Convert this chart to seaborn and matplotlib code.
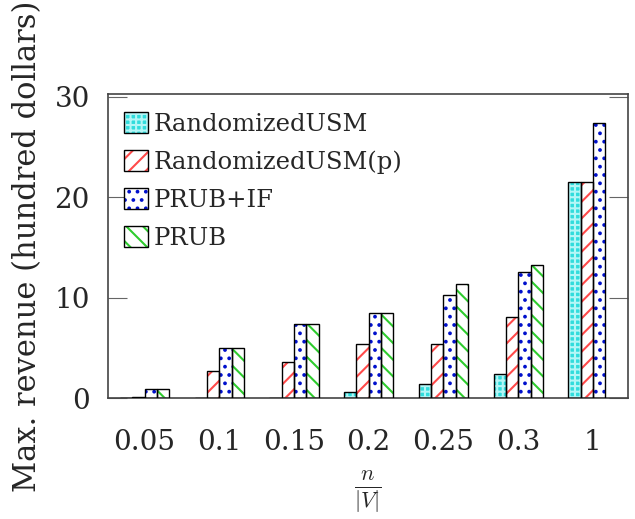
import pandas as pd
import numpy as np
import matplotlib
matplotlib.use("Agg")
import matplotlib.pyplot as plt
import seaborn as sns
from matplotlib.patches import Patch, Rectangle

#%% data
ratios = ["0.05", "0.1", "0.15", "0.2", "0.25", "0.3", "1"]
methods = ["RandomizedUSM", "RandomizedUSM(p)", "PRUB+IF", "PRUB"]
usm = [0.0, 0.0, 0.0, 0.6, 1.4, 2.4, 21.5]
usm_p = [0.15, 2.7, 3.6, 5.4, 5.4, 8.1, 21.5]
prub_if = [0.9, 5.0, 7.4, 8.5, 10.3, 12.6, 27.4]
prub = [0.9, 5.0, 7.4, 8.5, 11.4, 13.3, None]  # no PRUB bar at 1

rows = []
for m, vals in zip(methods, [usm, usm_p, prub_if, prub]):
    for r, v in zip(ratios, vals):
        if v is not None:
            rows.append({"ratio": r, "method": m, "revenue": v})
df = pd.DataFrame(rows)

#%% styles
face = ["#30dcdc", "white", "white", "white"]
hatch_col = ["#b4f6f6", "#ff4a4a", "#0010cc", "#2ecc2e"]
hatches = ["+++", "//", "..", "\\\\"]

sns.set_style("ticks")
plt.rcParams["font.family"] = ["DejaVu Serif"]
plt.rcParams["mathtext.fontset"] = "cm"
plt.rcParams["hatch.linewidth"] = 1.5

fig = plt.figure(figsize=(6.35, 5.19), dpi=100)
ax = fig.add_axes([0.170, 0.233, 0.819, 0.586])

sns.barplot(data=df, x="ratio", y="revenue", hue="method", order=ratios,
            hue_order=methods, width=0.66, errorbar=None, legend=False, ax=ax)

for i, cont in enumerate(ax.containers):
    for bar in cont:
        bar.set_facecolor(face[i])
        bar.set_edgecolor(hatch_col[i])
        bar.set_hatch(hatches[i])
        bar.set_linewidth(0)
        ax.add_patch(Rectangle(bar.get_xy(), bar.get_width(), bar.get_height(),
                               fill=False, edgecolor="black", lw=1.0, zorder=3))

ax.set_xlim(-0.49, 6.47)
ax.set_ylim(0, 30.3)
ax.set_yticks([0, 10, 20, 30])
ax.tick_params(axis="y", direction="in", length=14, width=0.8, color="#666666",
               right=True, labelsize=20, pad=13)
ax.tick_params(axis="x", length=0, labelsize=20, pad=22)
for s in ax.spines.values():
    s.set_visible(True)
    s.set_color("#444444")
    s.set_linewidth(1.2)

ax.set_ylabel("Max. revenue (hundred dollars)", fontsize=22, labelpad=8)
ax.set_xlabel(r"$\frac{n}{|V|}$", fontsize=23, labelpad=10)

handles = []
for i in range(4):
    h1 = Patch(facecolor=face[i], edgecolor=hatch_col[i], hatch=hatches[i], lw=0)
    h2 = Patch(facecolor="none", edgecolor="black", lw=1.0)
    handles.append((h1, h2))
ax.legend(handles, methods, loc="upper left", bbox_to_anchor=(0.03, 0.94),
          frameon=False, fontsize=17.5, handlelength=1.0, handleheight=0.95,
          handletextpad=0.25, labelspacing=0.58, borderpad=0, borderaxespad=0)

plt.savefig("out.png", dpi=100)
